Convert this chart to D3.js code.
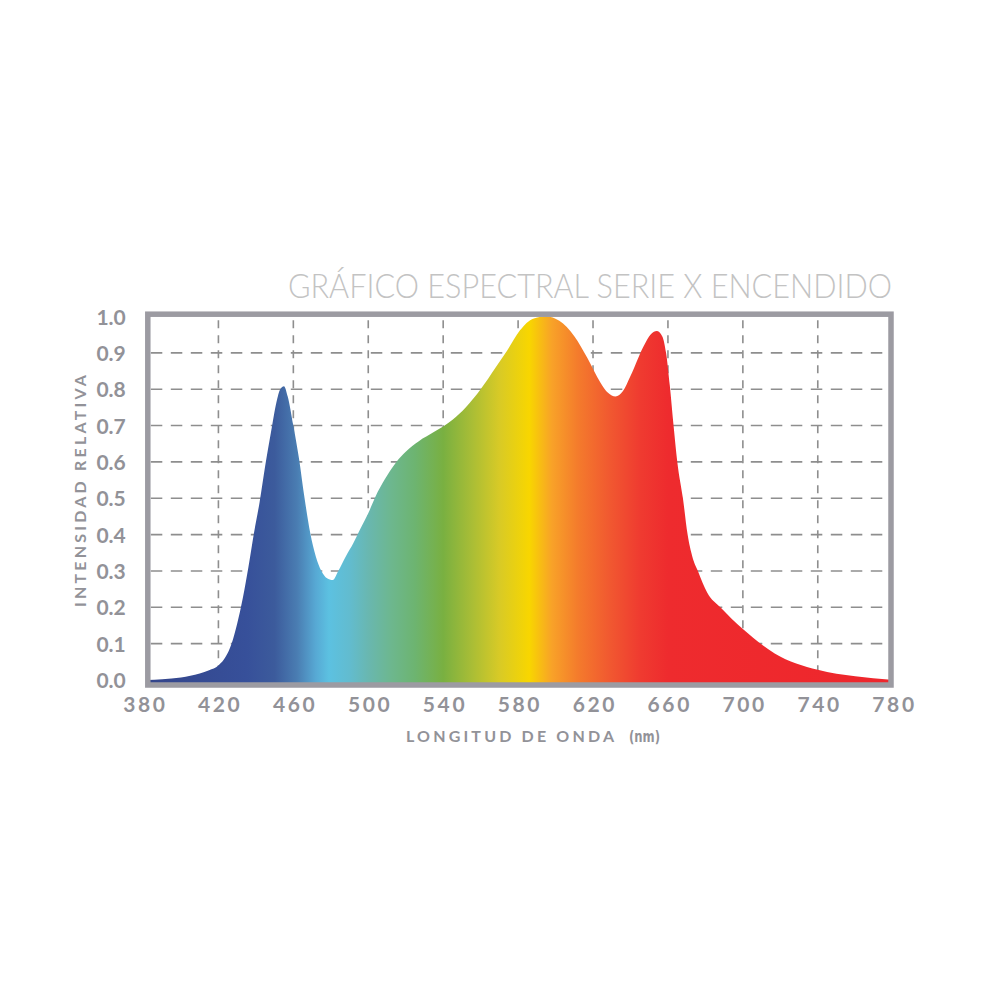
<!doctype html>
<html>
<head>
<meta charset="utf8">
<script src="https://d3js.org/d3.v7.min.js"></script>
<style>
    body { margin: 0; background: #fff; }
    .tick text { font-family: Lato, "Open Sans", sans-serif; font-weight: 700; fill: #929298; }
</style>
</head>
<body>
<svg width="1000" height="1000"></svg>
<script>

    // spectrum (nm -> relative intensity)
    var wavelengths = [380, 390, 400, 410, 415, 420, 424, 427, 430, 433, 436, 439, 442, 445, 448, 451, 453, 455, 457, 460,
                       463, 466, 469, 472, 475, 478, 481, 484, 488, 492, 496, 500, 505, 510, 515, 520, 527, 535, 545, 552,
                       560, 568, 574, 581, 588, 595, 602, 610, 617, 624, 628, 632, 636, 640, 647, 651, 654, 657, 659, 661,
                       663, 665, 668, 670.5, 673, 676, 681, 688, 700, 717, 740, 760, 780];
    var intensity =   [0, 0.002, 0.007, 0.018, 0.027, 0.04, 0.065, 0.1, 0.155, 0.225, 0.31, 0.405, 0.49, 0.59, 0.68, 0.765, 0.8, 0.808, 0.78, 0.7,
                       0.61, 0.5, 0.405, 0.34, 0.3, 0.28, 0.275, 0.3, 0.34, 0.376, 0.418, 0.459, 0.517, 0.562, 0.6, 0.628, 0.657, 0.682, 0.716, 0.75,
                       0.8, 0.86, 0.905, 0.962, 0.994, 1.0, 0.988, 0.946, 0.886, 0.818, 0.79, 0.78, 0.795, 0.836, 0.918, 0.952, 0.96, 0.945, 0.9, 0.81,
                       0.7, 0.6, 0.5, 0.4, 0.34, 0.3, 0.24, 0.2, 0.14, 0.073, 0.028, 0.01, 0];

    var xTicks = [380, 420, 460, 500, 540, 580, 620, 660, 700, 740, 780];
    var yTicks = [0, 0.1, 0.2, 0.3, 0.4, 0.5, 0.6, 0.7, 0.8, 0.9, 1.0];

    // colour of the fill along the spectrum
    var spectrumStops = [
        [380, "#33448a"], [435, "#37509a"], [450, "#3c5b9c"], [462, "#4a7db2"], [472, "#57a9d4"],
        [479, "#5cc1e1"], [490, "#62bccf"], [500, "#69b7b0"], [512, "#6db78f"], [525, "#6db470"],
        [540, "#79b041"], [555, "#a8bd36"], [570, "#d8ca26"], [586, "#f8d600"], [598, "#f8a228"],
        [612, "#f47b2c"], [628, "#f15a30"], [645, "#ef3b30"], [660, "#ee2b2e"], [780, "#ee262c"]
    ];

    var svg = d3.select("svg");

    var frame = { left: 147.8, right: 891, top: 314.2, bottom: 685 };

    var x = d3.scaleLinear().domain([380, 780]).range([143.5, 892.7]),
        y = d3.scaleLinear().domain([0, 1]).range([680, 316.5]);

    var data = wavelengths.map(function(w, i) { return { nm: w, v: intensity[i] }; });

    var defs = svg.append("defs");

    var grad = defs.append("linearGradient")
        .attr("id", "spectrum")
        .attr("gradientUnits", "userSpaceOnUse")
        .attr("x1", x(380)).attr("x2", x(780))
        .attr("y1", 0).attr("y2", 0);

    grad.selectAll("stop")
        .data(spectrumStops)
        .enter().append("stop")
        .attr("offset", function(d) { return (d[0] - 380) / 400; })
        .attr("stop-color", function(d) { return d[1]; });

    defs.append("clipPath").attr("id", "plot")
        .append("rect")
        .attr("x", frame.left).attr("y", frame.top)
        .attr("width", frame.right - frame.left)
        .attr("height", frame.bottom - frame.top);

    // dashed grid
    var grid = svg.append("g")
        .attr("stroke", "#8e8e8e")
        .attr("stroke-width", 1.6)
        .attr("fill", "none");

    grid.selectAll(".gy")
        .data(yTicks.slice(1, -1))
        .enter().append("line")
        .attr("x1", frame.left + 3)
        .attr("x2", frame.right - 3)
        .attr("y1", function(d) { return y(d); })
        .attr("y2", function(d) { return y(d); })
        .attr("stroke-dasharray", "11.5,8.5");

    grid.selectAll(".gx")
        .data(xTicks.slice(1, -1))
        .enter().append("line")
        .attr("x1", function(d) { return x(d); })
        .attr("x2", function(d) { return x(d); })
        .attr("y1", frame.top + 6)
        .attr("y2", frame.bottom - 3)
        .attr("stroke-dasharray", "8,7");

    // spectrum area
    var area = d3.area()
        .x(function(d) { return x(d.nm); })
        .y0(frame.bottom - 2)
        .y1(function(d) { return y(d.v); })
        .curve(d3.curveMonotoneX);

    svg.append("path")
        .datum(data)
        .attr("clip-path", "url(#plot)")
        .attr("fill", "url(#spectrum)")
        .attr("d", area);

    // frame
    svg.append("rect")
        .attr("x", frame.left).attr("y", frame.top)
        .attr("width", frame.right - frame.left)
        .attr("height", frame.bottom - frame.top)
        .attr("fill", "none")
        .attr("stroke", "#9c9ba2")
        .attr("stroke-width", 5.5);

    // axes
    var yAxis = svg.append("g")
        .attr("transform", "translate(" + frame.left + ",0)")
        .call(d3.axisLeft(y).tickValues(yTicks).tickSize(0).tickPadding(22).tickFormat(d3.format(".1f")));
    yAxis.select(".domain").remove();
    yAxis.selectAll("text").attr("font-size", 21).attr("dy", "0.36em");

    var xAxis = svg.append("g")
        .attr("transform", "translate(0," + frame.bottom + ")")
        .call(d3.axisBottom(x).tickValues(xTicks).tickSize(0).tickPadding(12));
    xAxis.select(".domain").remove();
    xAxis.selectAll("text")
        .attr("font-size", 21)
        .attr("letter-spacing", 2.6)
        .attr("dx", 1.3);

    // axis titles
    var xt = svg.append("text")
        .attr("y", 742)
        .attr("font-family", "Lato, 'Open Sans', sans-serif")
        .attr("font-weight", 700)
        .attr("fill", "#929298");
    xt.append("tspan")
        .attr("x", 406)
        .attr("font-size", 16)
        .attr("textLength", 208)
        .attr("lengthAdjust", "spacing")
        .text("LONGITUD DE ONDA");
    xt.append("tspan")
        .attr("x", 629)
        .attr("font-size", 15)
        .attr("font-family", "'DejaVu Sans Condensed', 'Liberation Sans Narrow', sans-serif")
        .attr("textLength", 31)
        .attr("lengthAdjust", "spacingAndGlyphs")
        .text("(nm)");

    svg.append("text")
        .attr("transform", "translate(86,491) rotate(-90)")
        .attr("text-anchor", "middle")
        .attr("font-family", "Lato, 'Open Sans', sans-serif")
        .attr("font-weight", 700)
        .attr("font-size", 16)
        .attr("fill", "#929298")
        .attr("textLength", 232)
        .attr("lengthAdjust", "spacing")
        .text("INTENSIDAD RELATIVA");

    // title
    svg.append("text")
        .attr("x", 892)
        .attr("y", 298)
        .attr("text-anchor", "end")
        .attr("font-family", "Lato, 'Open Sans', sans-serif")
        .attr("font-weight", 300)
        .attr("font-size", 34)
        .attr("fill", "#c3c3c3")
        .attr("textLength", 604)
        .attr("lengthAdjust", "spacingAndGlyphs")
        .text("GRÁFICO ESPECTRAL SERIE X ENCENDIDO");

</script>
</body>
</html>
